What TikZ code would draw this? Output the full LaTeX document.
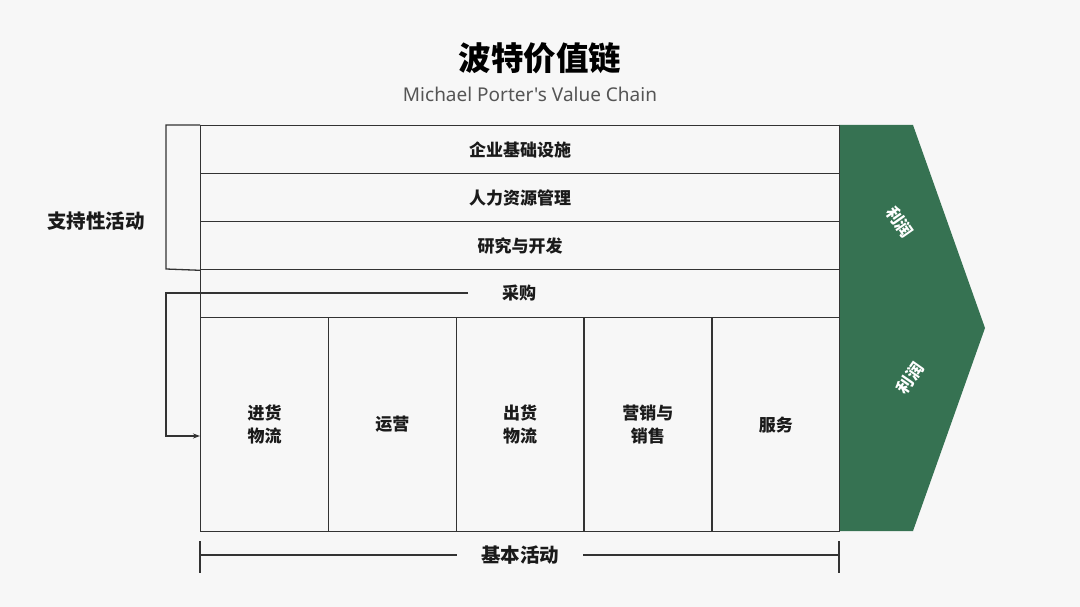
\documentclass[tikz,border=0pt]{standalone}
\usepackage{fontspec}
\setmainfont{Noto Sans CJK SC}
\newfontfamily\latinsub{Noto Sans}
\usetikzlibrary{arrows.meta}
\definecolor{bgc}{HTML}{F7F7F7}
\definecolor{grn}{RGB}{54,114,82}
\definecolor{lnc}{HTML}{333333}
\definecolor{txc}{HTML}{1A1A1A}
\definecolor{subc}{HTML}{555555}
\tikzset{
  cell/.style={draw=lnc, line width=1.3pt, anchor=north west, inner sep=0pt, font=\fontsize{17}{22.5}\selectfont\bfseries, text=txc, align=center},
  rowcell/.style={cell, minimum width=639pt, minimum height=48pt},
  colcell/.style={cell, minimum width=127.8pt, minimum height=214pt},
  ln/.style={draw=lnc, line width=1.3pt},
  lbl/.style={font=\fontsize{19.5}{22}\selectfont\bfseries, text=txc},
  profit/.style={font=\fontsize{16.5}{18}\selectfont\bfseries, text=white, inner sep=1pt}
}
\begin{document}
\begin{tikzpicture}[x=1pt,y=-1pt]
\fill[bgc] (0,0) rectangle (1080,607);
\useasboundingbox (0,0) rectangle (1080,607);
% title
\node[font=\fontsize{32.5}{36}\selectfont\bfseries, text=black] (title) at (540,58) {波特价值链};
\node[font=\latinsub\fontsize{19}{21}\selectfont, text=subc] (sub) at (530,94) {Michael Porter's Value Chain};
% green chevron
\fill[grn] (839,125) -- (913,125) -- (985,328) -- (913,531) -- (839,531) -- cycle;
\node[profit, rotate=-55] (p1) at (900,222) {利润};
\node[profit, rotate=55] (p2) at (910,378) {利润};
% support rows
\node[rowcell] (r1) at (200,125) {企业基础设施};
\node[rowcell] (r2) at (200,173) {人力资源管理};
\node[rowcell] (r3) at (200,221) {研究与开发};
\node[rowcell] (r4) at (200,269) {};
\node[cell, draw=none, fill=bgc, inner xsep=6pt, inner ysep=2pt, anchor=center] (proc) at (519,293) {采购};
% primary columns
\node[colcell] (c1) at (200,317) {进货\\物流};
\node[colcell] (c2) at (327.8,317) {运营};
\node[colcell] (c3) at (455.6,317) {出货\\物流};
\node[colcell] (c4) at (583.4,317) {营销与\\销售};
\node[colcell] (c5) at (711.2,317) {服务};
% support bracket
\coordinate (s1) at (166,125);
\coordinate (s2) at (166,269);
\draw[ln] (r1.north west) -- (s1) -- (s2) -- (r3.south west);
\node[lbl] (sup) at (96,221) {支持性活动};
% procurement arrow
\coordinate (q0) at (468,293);
\coordinate (q1) at (166,293);
\coordinate (q2) at (166,436);
\draw[ln, line width=1.1pt, -{Stealth[length=7pt,width=5pt]}] (q0) -- (q1) -- (q2) -- (q2 -| c1.west);
% bottom bracket
\coordinate (b1) at (200,541);
\coordinate (b2) at (200,573);
\coordinate (b3) at (839,541);
\coordinate (b4) at (839,573);
\draw[ln, line width=1.1pt] (b1) -- (b2);
\draw[ln, line width=1.1pt] (b3) -- (b4);
\node[lbl, inner xsep=24pt] (basic) at (520,555) {基本活动};
\draw[ln, line width=1.1pt] (basic.west -| b1) -- (basic.west);
\draw[ln, line width=1.1pt] (basic.east) -- (basic.east -| b3);
\end{tikzpicture}
\end{document}
